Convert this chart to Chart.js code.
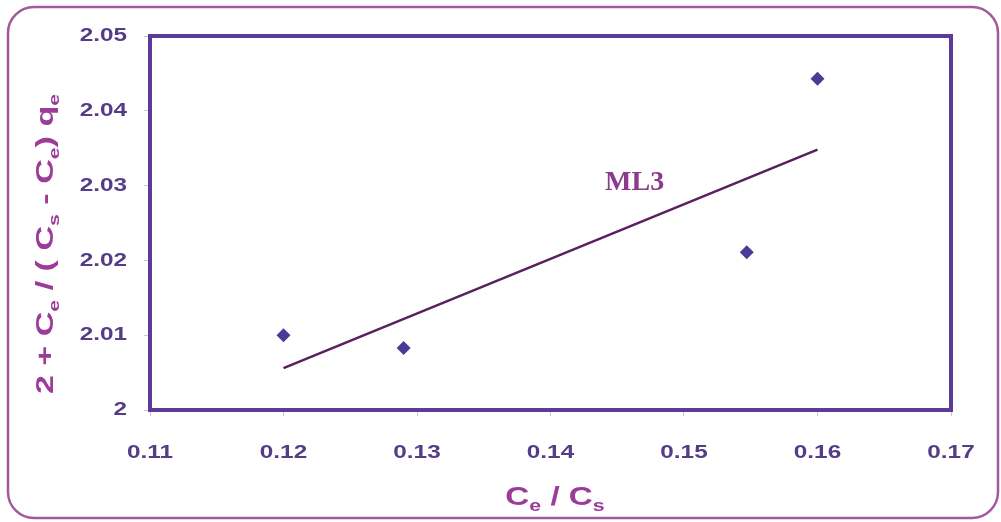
<!DOCTYPE html>
<html>
<head>
<meta charset="utf-8">
<script src="https://cdn.jsdelivr.net/npm/chart.js@4.4.0/dist/chart.umd.min.js"></script>
<style>
  html, body { margin: 0; padding: 0; background: #ffffff; }
  #wrap { width: 1001px; height: 522px; }
</style>
</head>
<body>
<div id="wrap"><canvas id="chart" width="1001" height="522"></canvas></div>
<script>
// measured points
const ratioX = [0.1200, 0.1290, 0.1547, 0.1600];
const seriesY = [2.0100, 2.0083, 2.0211, 2.0443];

// fitted line ML3 (end points)
const fitX = [0.1200, 0.1600];
const fitY = [2.0056, 2.0348];
const fitLabel = "ML3";
const fitLabelAt = [0.1463, 2.0304];

// axis ranges and ticks
const xTicks = [0.11, 0.12, 0.13, 0.14, 0.15, 0.16, 0.17];
const yTicks = [2, 2.01, 2.02, 2.03, 2.04, 2.05];
const xTickText = ["0.11", "0.12", "0.13", "0.14", "0.15", "0.16", "0.17"];
const yTickText = ["2", "2.01", "2.02", "2.03", "2.04", "2.05"];

const axisColor = "#5b3a9a";
const tickText = "#553c86";
const titleColor = "#9c3c98";
const sans = "'Liberation Sans', Arial, sans-serif";

// wide bold text: font is stretched along the writing direction
function wideText(ctx, text, x, y, size, stretch, align) {
    ctx.save();
    ctx.font = "bold " + size + "px " + sans;
    const w = ctx.measureText(text).width * stretch;
    let left = x - w / 2;
    if (align === "right") left = x - w;
    ctx.translate(left, y);
    ctx.scale(stretch, 1);
    ctx.textAlign = "left";
    ctx.fillText(text, 0, 0);
    ctx.restore();
}

// draws text pieces left to right, lowering the subscript ones
function drawRich(ctx, parts, size, subSize, stretch) {
    let w = 0;
    parts.forEach(p => {
        ctx.font = "bold " + (p.sub ? subSize : size) + "px " + sans;
        p.w = ctx.measureText(p.t).width;
        w += p.w;
    });
    ctx.scale(stretch, 1);
    let x = -w / 2;
    parts.forEach(p => {
        ctx.font = "bold " + (p.sub ? subSize : size) + "px " + sans;
        ctx.fillText(p.t, x, p.sub ? size * 0.25 : 0);
        x += p.w;
    });
}

const framePlugin = {
    id: "frame",
    beforeDraw(chart) {
        const ctx = chart.ctx;
        ctx.save();
        ctx.fillStyle = "#ffffff";
        ctx.fillRect(0, 0, chart.width, chart.height);
        ctx.strokeStyle = "#a3599f";
        ctx.lineWidth = 2.5;
        ctx.beginPath();
        ctx.roundRect(8, 7, 990, 511, 26);
        ctx.stroke();
        ctx.restore();
    },
    afterDraw(chart) {
        const ctx = chart.ctx;
        const a = chart.chartArea;
        const xs = chart.scales.x, ys = chart.scales.y;
        ctx.save();
        // plot frame
        ctx.strokeStyle = axisColor;
        ctx.lineWidth = 4;
        ctx.strokeRect(a.left, a.top, a.right - a.left, a.bottom - a.top);

        // tick labels
        ctx.fillStyle = tickText;
        ctx.textBaseline = "middle";
        xTicks.forEach((v, i) => {
            wideText(ctx, xTickText[i], xs.getPixelForValue(v), a.bottom + 43, 19, 1.28, "center");
        });
        yTicks.forEach((v, i) => {
            wideText(ctx, yTickText[i], 127, ys.getPixelForValue(v), 19, 1.28, "right");
        });

        // series label
        ctx.fillStyle = "#8b3a8c";
        ctx.font = "bold 28px 'Liberation Serif', 'Times New Roman', serif";
        ctx.textAlign = "center";
        ctx.textBaseline = "middle";
        ctx.fillText(fitLabel, xs.getPixelForValue(fitLabelAt[0]), ys.getPixelForValue(fitLabelAt[1]));

        // axis titles
        ctx.fillStyle = titleColor;
        ctx.textAlign = "left";
        ctx.textBaseline = "alphabetic";
        ctx.save();
        ctx.translate(555, 505);
        drawRich(ctx, [
            { t: "C" }, { t: "e", sub: true }, { t: " / C" }, { t: "s", sub: true }
        ], 25, 16, 1.33);
        ctx.restore();

        ctx.save();
        ctx.translate(53, 244);
        ctx.rotate(-Math.PI / 2);
        drawRich(ctx, [
            { t: "2 + C" }, { t: "e", sub: true }, { t: " / ( C" }, { t: "s", sub: true },
            { t: " - C" }, { t: "e", sub: true }, { t: ") q" }, { t: "e", sub: true }
        ], 24, 15, 1.42);
        ctx.restore();
        ctx.restore();
    }
};

new Chart(document.getElementById("chart"), {
    type: "scatter",
    data: {
        datasets: [{
            label: "data",
            data: ratioX.map((x, i) => ({ x: x, y: seriesY[i] })),
            pointStyle: "rectRot",
            pointRadius: 7,
            backgroundColor: "#4a3b96",
            borderColor: "#4a3b96",
            borderWidth: 0
        }, {
            label: fitLabel,
            type: "line",
            data: fitX.map((x, i) => ({ x: x, y: fitY[i] })),
            borderColor: "#5a1f5e",
            borderWidth: 2.5,
            pointRadius: 0,
            fill: false
        }]
    },
    options: {
        responsive: false,
        animation: false,
        layout: { padding: { left: 0, top: 36, right: 50, bottom: 0 } },
        plugins: {
            legend: { display: false },
            tooltip: { enabled: false }
        },
        scales: {
            x: {
                type: "linear",
                min: 0.11,
                max: 0.17,
                afterBuildTicks: s => { s.ticks = xTicks.map(v => ({ value: v })); },
                afterFit: s => { s.height = 112; },
                border: { display: false },
                grid: { drawOnChartArea: false, color: "#c9c3d6", tickLength: 6, lineWidth: 1 },
                ticks: { display: false }
            },
            y: {
                type: "linear",
                min: 2,
                max: 2.05,
                afterBuildTicks: s => { s.ticks = yTicks.map(v => ({ value: v })); },
                afterFit: s => { s.width = 150; },
                border: { display: false },
                grid: { drawOnChartArea: false, color: "#c9c3d6", tickLength: 6, lineWidth: 1 },
                ticks: { display: false }
            }
        }
    },
    plugins: [framePlugin]
});
</script>
</body>
</html>
